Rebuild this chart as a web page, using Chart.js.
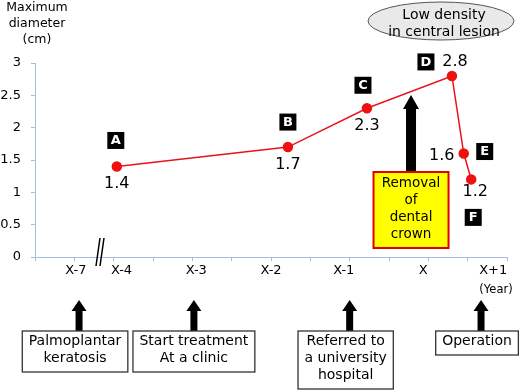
<!DOCTYPE html>
<html><head><meta charset="utf-8">
<script src="https://cdn.jsdelivr.net/npm/chart.js@4"></script>
<style>html,body{margin:0;padding:0;background:#fff}#wrap{width:520px;height:391px}</style>
</head><body><div id="wrap"><canvas id="c" width="520" height="391"></canvas></div>
<script>
// ---- data ----
const pointLetters = ['A', 'B', 'C', 'D', 'E', 'F'];
const pointYears = [2.08, 6.43, 8.44, 10.6, 10.9, 11.09];
const diameters = [1.4, 1.7, 2.3, 2.8, 1.6, 1.2];
const tickLabels = ['X-7', 'X-4', 'X-3', 'X-2', 'X-1', 'X', 'X+1'];
const tickYears = [1.04, 2.2, 4.1, 6.0, 7.85, 9.87, 11.65];
const yTicks = [0, 0.5, 1, 1.5, 2, 2.5, 3];
const events = ['Palmoplantar\nkeratosis', 'Start treatment\nAt a clinic', 'Referred to\na university\nhospital', 'Operation'];
const eventYears = [1.12, 4.04, 8.0, 11.34];
const crownEvent = 'Removal\nof\ndental\ncrown';
const crownYear = 9.56;
const noteText = 'Low density\nin central lesion';
const yTitle = 'Maximum\ndiameter\n(cm)';
const xUnit = '(Year)';

// ---- styles / layout ----
const FONT = 'DejaVu Sans';
const AXIS = '#a9bddb';
const letterOffsets = [[-1, -26], [0, -25], [-4, -23], [-26, -14], [21, -2], [2, 38]];
const valueOffsets = [[0, 17], [0, 18], [0, 18], [3, -14], [-22, 2], [4, 12]];
const eventBoxDx = [-4, 0, -4, -4];

Chart.defaults.font.family = FONT;

function upArrow(ctx, x, yTop, yBottom, shaftW, headW, headH) {
  ctx.fillStyle = '#000';
  ctx.beginPath();
  ctx.moveTo(x, yTop);
  ctx.lineTo(x + headW / 2, yTop + headH);
  ctx.lineTo(x + shaftW / 2, yTop + headH);
  ctx.lineTo(x + shaftW / 2, yBottom);
  ctx.lineTo(x - shaftW / 2, yBottom);
  ctx.lineTo(x - shaftW / 2, yTop + headH);
  ctx.lineTo(x - headW / 2, yTop + headH);
  ctx.closePath();
  ctx.fill();
}

const annotations = {
  id: 'annotations',
  afterDraw(chart) {
    const ctx = chart.ctx;
    const xs = chart.scales.x;
    ctx.save();
    ctx.textAlign = 'center';
    ctx.textBaseline = 'middle';

    // y title
    ctx.fillStyle = '#000';
    ctx.font = '12.5px ' + FONT;
    yTitle.split('\n').forEach((t, i) => ctx.fillText(t, 37, 8 + i * 16));

    // ellipse note
    ctx.beginPath();
    ctx.ellipse(441, 21, 73, 19, 0, 0, Math.PI * 2);
    ctx.fillStyle = '#e9e9e9';
    ctx.fill();
    ctx.strokeStyle = '#555';
    ctx.lineWidth = 1;
    ctx.stroke();
    ctx.fillStyle = '#000';
    ctx.font = '14px ' + FONT;
    noteText.split('\n').forEach((t, i) => ctx.fillText(t, 444, 15 + i * 17));

    // point letters and values
    const meta = chart.getDatasetMeta(0);
    meta.data.forEach((pt, i) => {
      const [lx, ly] = letterOffsets[i];
      const bx = pt.x + lx, by = pt.y + ly;
      ctx.fillStyle = '#000';
      ctx.fillRect(bx - 8.5, by - 8.5, 17, 17);
      ctx.fillStyle = '#fff';
      ctx.font = 'bold 13px ' + FONT;
      ctx.fillText(pointLetters[i], bx, by + 0.5);
      const [vx, vy] = valueOffsets[i];
      ctx.fillStyle = '#000';
      ctx.font = '16px ' + FONT;
      ctx.fillText(String(diameters[i]), pt.x + vx, pt.y + vy);
    });

    // crown removal arrow and box
    const cx = xs.getPixelForValue(crownYear);
    upArrow(ctx, cx, 95, 173, 10, 16, 14);
    const cw = 75, ch = 76, ctop = 172;
    ctx.fillStyle = '#ffff00';
    ctx.fillRect(cx - cw / 2, ctop, cw, ch);
    ctx.strokeStyle = '#e00000';
    ctx.lineWidth = 2;
    ctx.strokeRect(cx - cw / 2, ctop, cw, ch);
    ctx.fillStyle = '#000';
    ctx.font = '13.5px ' + FONT;
    crownEvent.split('\n').forEach((t, i) => ctx.fillText(t, cx, ctop + 11 + i * 17.3));

    // bottom events
    ctx.font = '14px ' + FONT;
    events.forEach((ev, k) => {
      const ax = xs.getPixelForValue(eventYears[k]);
      upArrow(ctx, ax, 300, 332, 7, 15, 11);
      const lines = ev.split('\n');
      const w = Math.max(...lines.map(t => ctx.measureText(t).width)) + 13;
      const h = lines.length * 17 + 7;
      const bxc = ax + eventBoxDx[k];
      ctx.fillStyle = '#fff';
      ctx.fillRect(bxc - w / 2, 331, w, h);
      ctx.strokeStyle = '#333';
      ctx.lineWidth = 1.3;
      ctx.strokeRect(bxc - w / 2, 331, w, h);
      ctx.fillStyle = '#000';
      lines.forEach((t, i) => ctx.fillText(t, bxc, 341.5 + i * 17));
    });

    // year unit
    ctx.font = '11.5px ' + FONT;
    ctx.fillText(xUnit, 496, 290);

    // axis break mark
    ctx.strokeStyle = '#000';
    ctx.lineWidth = 1.5;
    ctx.beginPath();
    ctx.moveTo(100, 238); ctx.lineTo(96, 266);
    ctx.moveTo(104, 238); ctx.lineTo(100, 266);
    ctx.stroke();
    ctx.restore();
  }
};

new Chart(document.getElementById('c'), {
  type: 'scatter',
  data: {
    datasets: [{
      data: pointYears.map((x, i) => ({ x, y: diameters[i] })),
      showLine: true,
      borderColor: '#e8141c',
      borderWidth: 1.5,
      pointBackgroundColor: '#f01010',
      pointBorderColor: '#f01010',
      pointRadius: 4.5,
      clip: false,
      xAxisID: 'x',
      yAxisID: 'y'
    }]
  },
  options: {
    responsive: false,
    animation: false,
    devicePixelRatio: 1,
    layout: { padding: { top: 63, right: 13, left: 0, bottom: 0 } },
    plugins: { legend: { display: false }, tooltip: { enabled: false } },
    scales: {
      x: {
        type: 'linear', min: 0, max: 12, position: 'bottom',
        ticks: { display: false, stepSize: 1 },
        grid: { drawOnChartArea: false, drawTicks: true, tickLength: 4, color: AXIS },
        border: { display: true, color: AXIS, width: 1 },
        afterFit: s => { s.height = 134; }
      },
      xl: {
        type: 'linear', axis: 'x', min: 0, max: 12, position: { y: 0 },
        afterBuildTicks: s => { s.ticks = tickYears.map(v => ({ value: v })); },
        ticks: { autoSkip: false, maxRotation: 0, padding: 6, color: '#000', font: { size: 13 }, callback: (v, i) => tickLabels[i] },
        grid: { display: false, drawTicks: false },
        border: { display: false }
      },
      y: {
        type: 'linear', min: 0, max: 3,
        afterBuildTicks: s => { s.ticks = yTicks.map(v => ({ value: v })); },
        ticks: { padding: 10, color: '#000', font: { size: 13 }, callback: v => String(v) },
        grid: { drawOnChartArea: false, drawTicks: true, tickLength: 4, color: AXIS },
        border: { display: true, color: AXIS, width: 1 },
        afterFit: s => { s.width = 35; }
      }
    }
  },
  plugins: [annotations]
});
</script>
</body></html>
